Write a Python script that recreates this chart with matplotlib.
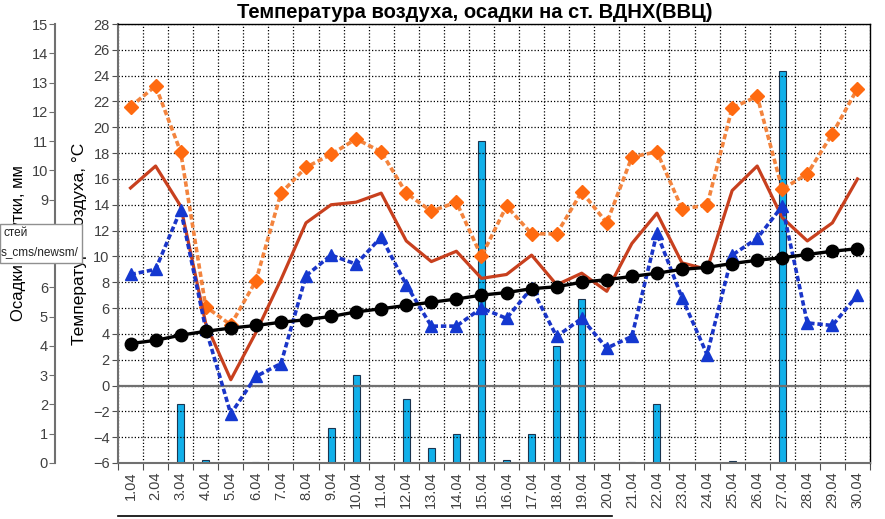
import numpy as np
import matplotlib.pyplot as plt
from matplotlib.patches import Rectangle
from matplotlib.lines import Line2D

plt.rcParams['font.family'] = ['Liberation Sans', 'DejaVu Sans']

days = ['%d.04' % d for d in range(1, 31)]
precip = [0, 0, 2.0, 0.1, 0, 0.03, 0, 0, 1.2, 3.0, 0, 2.2, 0.5, 1.0, 11.0,
          0.1, 1.0, 4.0, 5.6, 0, 0.02, 2.0, 0, 0, 0.08, 0, 13.4, 0, 0, 0]
t_max = [21.6, 23.2, 18.1, 6.1, 4.7, 8.1, 14.9, 16.9, 17.9, 19.1, 18.1, 14.9, 13.5, 14.2, 10.0,
         13.9, 11.75, 11.75, 15.0, 12.6, 17.7, 18.1, 13.7, 13.95, 21.5, 22.4, 15.2, 16.4, 19.5, 23.0]
t_mean = [15.3, 17.0, 13.9, 4.8, 0.45, 4.1, 8.2, 12.6, 14.0, 14.2, 14.9, 11.2, 9.6, 10.4, 8.3,
          8.6, 10.1, 7.8, 8.7, 7.3, 11.0, 13.35, 9.5, 9.0, 15.1, 17.0, 13.0, 11.2, 12.6, 16.0]
t_min = [8.6, 9.0, 13.6, 4.4, -2.2, 0.7, 1.7, 8.5, 10.1, 9.4, 11.5, 7.8, 4.6, 4.6, 6.0,
         5.2, 7.55, 3.8, 5.2, 2.9, 3.8, 11.8, 6.8, 2.4, 10.1, 11.4, 13.9, 4.85, 4.65, 7.0]
t_norm = [3.25, 3.5, 3.9, 4.2, 4.45, 4.65, 4.9, 5.1, 5.35, 5.7, 5.95, 6.2, 6.45, 6.7, 7.0,
          7.2, 7.5, 7.65, 8.0, 8.2, 8.45, 8.7, 9.0, 9.15, 9.45, 9.7, 9.9, 10.15, 10.4, 10.6]

W, H = 885, 519
fig = plt.figure(figsize=(W / 100, H / 100), dpi=100)
ax = fig.add_axes([118 / W, 1 - 463 / H, 752 / W, 439 / H])
ax2 = ax.twinx()
ax.set_zorder(ax2.get_zorder() + 1)
ax.patch.set_visible(False)

x = np.arange(len(days))

# осадки
ax2.bar(x, precip, width=0.28, color='#12b0ea', edgecolor='#1b3550', linewidth=0.8)
ax2.set_ylim(0, 15)
ax2.set_yticks(range(0, 16))
ax2.spines['left'].set_position(('axes', (55 - 118) / 752))
ax2.yaxis.set_ticks_position('left')
ax2.yaxis.set_label_position('left')
ax2.spines['left'].set_color('#707070')
ax2.spines['left'].set_linewidth(1.5)
for s in ['right', 'top', 'bottom']:
    ax2.spines[s].set_visible(False)
ax2.tick_params(axis='y', labelsize=10.5, labelcolor='#404040', color='#707070', length=4, pad=1)
ax2.set_ylabel('Осадки за сутки, мм', fontsize=12, labelpad=4)

# температура
ax.plot(x, t_max, color='#f3843e', lw=2.6, dashes=(1.5, 0.8), marker='D', ms=7.5,
        mfc='#ff6a10', mec='#ff6a10', zorder=3)
ax.plot(x, t_mean, color='#c8401e', lw=2.3, zorder=4)
ax.plot(x, t_min, color='#1a35c8', lw=2.6, dashes=(1.5, 0.8), marker='^', ms=8.5,
        mfc='#1438d0', mec='#1438d0', zorder=5)
ax.plot(x, t_norm, color='black', lw=2.4, marker='o', ms=9, zorder=6)

ax.set_ylim(-6, 28)
ax.set_yticks(range(-6, 29, 2))
ax.set_xlim(-0.5, len(days) - 0.5)
ax.set_xticks(np.arange(-0.5, len(days), 1.0))
ax.set_xticklabels([])
ax.set_xticks(x, minor=True)
ax.set_xticklabels(days, minor=True, rotation=90, fontsize=10.5, color='#404040')
ax.tick_params(axis='x', which='minor', length=0, pad=6)
ax.tick_params(axis='x', which='major', length=5, color='#505050')
ax.tick_params(axis='y', labelsize=10.5, labelcolor='#404040', color='#505050', length=4, pad=2)
ax.grid(True, which='major', color='black', linestyle=(0, (1, 1.6)), linewidth=0.9)
ax.axhline(0, color='#707070', lw=1.6, zorder=2)
ax.spines['left'].set_color('#707070')
ax.spines['left'].set_linewidth(1.5)
ax.spines['bottom'].set_color('#707070')
ax.spines['bottom'].set_linewidth(1.5)
ax.spines['top'].set_linewidth(1.0)
ax.spines['right'].set_linewidth(1.0)
ax.set_ylabel('Температура воздуха, °C', fontsize=12.5, labelpad=4)

fig.text(475 / W, 1 - 12 / H, 'Температура воздуха, осадки на ст. ВДНХ(ВВЦ)',
         ha='center', va='center', fontsize=14.5, fontweight='bold')

# всплывающая подсказка поверх подписи
fig.patches.append(Rectangle((0, 1 - 263 / H), 82 / W, 39 / H, transform=fig.transFigure,
                             facecolor='white', edgecolor='#909090', lw=1, zorder=10))
fig.text(3 / W, 1 - 233 / H, 'стей', fontsize=8.5, va='center', zorder=11, color='#222222')
fig.text(1 / W, 1 - 252 / H, 's_cms/newsm/', fontsize=8.5, va='center', zorder=11, color='#222222')
fig.lines.append(Line2D([118 / W, 612 / W], [1 - 516 / H, 1 - 516 / H],
                        transform=fig.transFigure, color='black', lw=1.2))

fig.savefig('out.png', dpi=100)
